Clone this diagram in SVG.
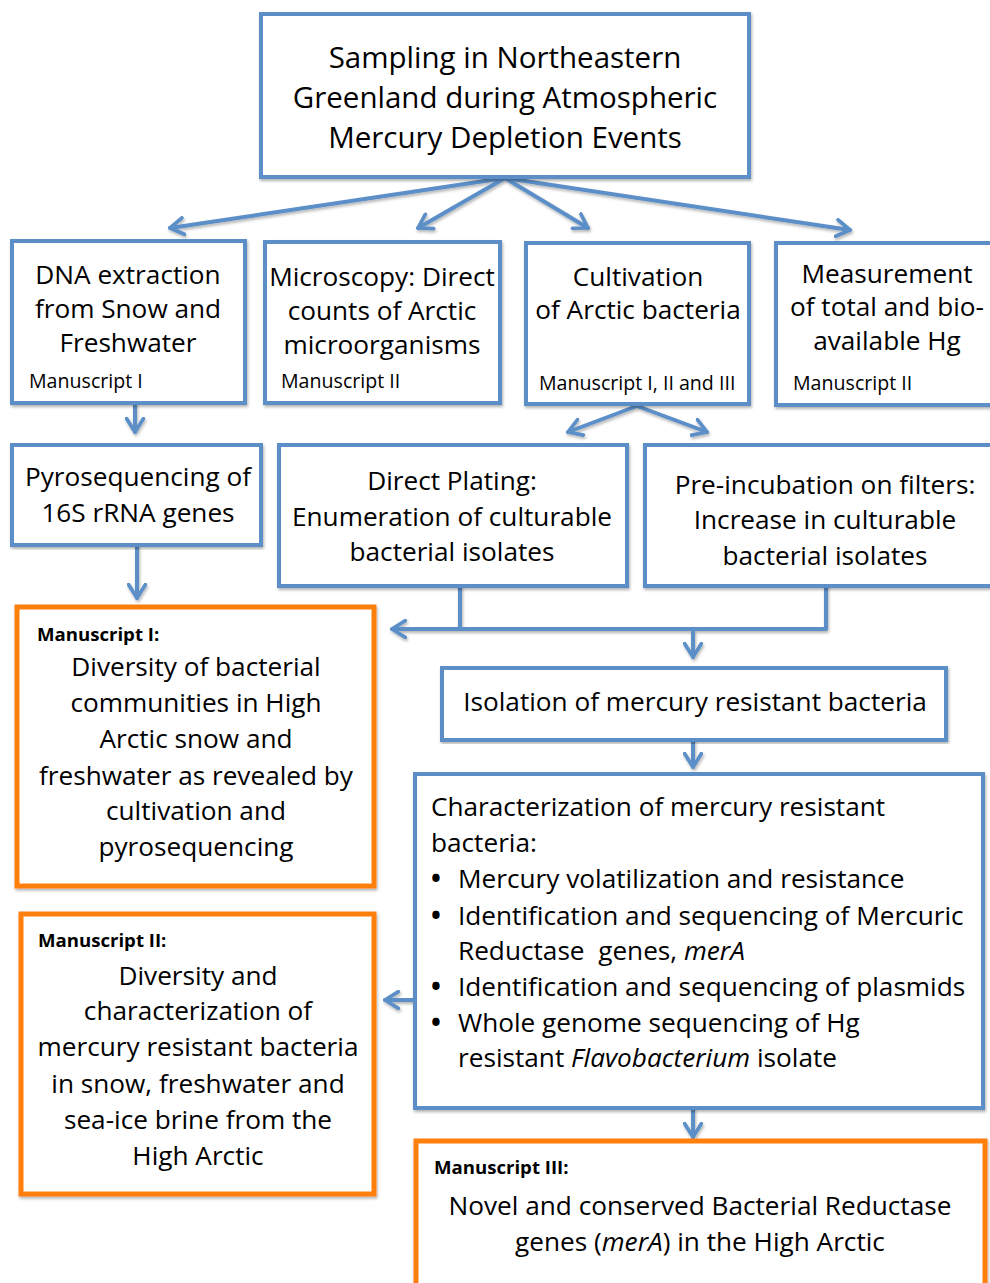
<svg xmlns="http://www.w3.org/2000/svg" width="990" height="1283" viewBox="0 0 990 1283">
<style>
.b{fill:#fff;stroke:#5B8FC7;stroke-width:4}
.o{fill:#fff;stroke:#FF7F0E;stroke-width:5}
.c{fill:none;stroke:#5B8FC7;stroke-width:4;stroke-linecap:round;stroke-linejoin:round}
text{font-family:"Open Sans","Liberation Sans",sans-serif;fill:#000}
.t{font-size:26.2px;text-anchor:middle}
.tl{font-size:26.2px}
.s{font-size:19.6px}
.h{font-size:18.6px;font-weight:bold}
.top{font-size:29.5px;text-anchor:middle}
.bu{font-size:26.2px;font-weight:bold}
</style>
<defs>
<filter id="sh" x="-5%" y="-5%" width="110%" height="110%"><feDropShadow dx="1" dy="2" stdDeviation="1.5" flood-color="#000" flood-opacity="0.3"/></filter>
<marker id="ah" viewBox="0 0 12 12" refX="9" refY="6" markerWidth="5" markerHeight="5" orient="auto" markerUnits="strokeWidth"><path d="M1,1 L9,6 L1,11" fill="none" stroke="#5B8FC7" stroke-width="2.2" stroke-linecap="round" stroke-linejoin="round"/></marker>
</defs>
<g id="connectors" filter="url(#sh)">
<path class="c" d="M505,178 L170,228" marker-end="url(#ah)"/>
<path class="c" d="M505,178 L418,228" marker-end="url(#ah)"/>
<path class="c" d="M505,178 L588,228" marker-end="url(#ah)"/>
<path class="c" d="M505,178 L850,230" marker-end="url(#ah)"/>
<path class="c" d="M135,404 L135,432" marker-end="url(#ah)"/>
<path class="c" d="M637,406 L568,432" marker-end="url(#ah)"/>
<path class="c" d="M637,406 L707,432" marker-end="url(#ah)"/>
<path class="c" d="M137,546 L137,598" marker-end="url(#ah)"/>
<path class="c" d="M460,587 L460,629"/>
<path class="c" d="M826,587 L826,629 L392,629" marker-end="url(#ah)"/>
<path class="c" d="M693,629 L693,657" marker-end="url(#ah)"/>
<path class="c" d="M693,741 L693,767" marker-end="url(#ah)"/>
<path class="c" d="M415,1000 L385,1000" marker-end="url(#ah)"/>
<path class="c" d="M693,1109 L693,1137" marker-end="url(#ah)"/>
</g>
<g id="n-top"><rect class="b" filter="url(#sh)" x="261" y="14" width="488" height="163"/>
<text class="top" x="505" y="68">Sampling in Northeastern</text>
<text class="top" x="505" y="108">Greenland during Atmospheric</text>
<text class="top" x="505" y="148">Mercury Depletion Events</text></g>
<g id="n-dna"><rect class="b" filter="url(#sh)" x="12" y="241" width="233" height="162"/>
<text class="t" x="128" y="284">DNA extraction</text>
<text class="t" x="128" y="318">from Snow and</text>
<text class="t" x="128" y="352">Freshwater</text>
<text class="s" x="29" y="388">Manuscript I</text></g>
<g id="n-micro"><rect class="b" filter="url(#sh)" x="265" y="242" width="235" height="161"/>
<text class="t" x="382" y="286">Microscopy: Direct</text>
<text class="t" x="382" y="320">counts of Arctic</text>
<text class="t" x="382" y="354">microorganisms</text>
<text class="s" x="281" y="388">Manuscript II</text></g>
<g id="n-cult"><rect class="b" filter="url(#sh)" x="526" y="243" width="223" height="161"/>
<text class="t" x="638" y="286">Cultivation</text>
<text class="t" x="638" y="319">of Arctic bacteria</text>
<text class="s" x="539" y="390">Manuscript I, II and III</text></g>
<g id="n-meas"><rect class="b" filter="url(#sh)" x="776" y="243" width="220" height="162"/>
<text class="t" x="887" y="283">Measurement</text>
<text class="t" x="887" y="316">of total and bio-</text>
<text class="t" x="887" y="350">available Hg</text>
<text class="s" x="793" y="390">Manuscript II</text></g>
<g id="n-pyro"><rect class="b" filter="url(#sh)" x="12" y="445" width="249" height="100"/>
<text class="t" x="138" y="486">Pyrosequencing of</text>
<text class="t" x="138" y="522">16S rRNA genes</text></g>
<g id="n-direct"><rect class="b" filter="url(#sh)" x="279" y="445" width="348" height="141"/>
<text class="t" x="452" y="490">Direct Plating:</text>
<text class="t" x="452" y="526">Enumeration of culturable</text>
<text class="t" x="452" y="561">bacterial isolates</text></g>
<g id="n-pre"><rect class="b" filter="url(#sh)" x="645" y="445" width="351" height="141"/>
<text class="t" x="825" y="494">Pre-incubation on filters:</text>
<text class="t" x="825" y="529">Increase in culturable</text>
<text class="t" x="825" y="565">bacterial isolates</text></g>
<g id="n-m1"><rect class="o" filter="url(#sh)" x="17" y="607" width="357" height="279"/>
<text class="h" x="37" y="641">Manuscript I:</text>
<text class="t" x="196" y="676">Diversity of bacterial</text>
<text class="t" x="196" y="712">communities in High</text>
<text class="t" x="196" y="748">Arctic snow and</text>
<text class="t" x="196" y="785">freshwater as revealed by</text>
<text class="t" x="196" y="820">cultivation and</text>
<text class="t" x="196" y="856">pyrosequencing</text></g>
<g id="n-iso"><rect class="b" filter="url(#sh)" x="442" y="668" width="504" height="72"/>
<text class="t" x="695" y="711">Isolation of mercury resistant bacteria</text></g>
<g id="n-char"><rect class="b" filter="url(#sh)" x="415" y="774" width="568" height="334"/>
<text class="tl" x="431" y="816">Characterization of mercury resistant</text>
<text class="tl" x="431" y="852">bacteria:</text>
<text class="bu" x="431" y="888">•</text><text class="tl" x="458" y="888">Mercury volatilization and resistance</text>
<text class="bu" x="431" y="925">•</text><text class="tl" x="458" y="925">Identification and sequencing of Mercuric</text>
<text class="tl" x="458" y="960" xml:space="preserve">Reductase  genes, <tspan font-style="italic">merA</tspan></text>
<text class="bu" x="431" y="996">•</text><text class="tl" x="458" y="996">Identification and sequencing of plasmids</text>
<text class="bu" x="431" y="1032">•</text><text class="tl" x="458" y="1032">Whole genome sequencing of Hg</text>
<text class="tl" x="458" y="1067">resistant <tspan font-style="italic">Flavobacterium</tspan> isolate</text></g>
<g id="n-m2"><rect class="o" filter="url(#sh)" x="21" y="914" width="353" height="280"/>
<text class="h" x="38" y="947">Manuscript II:</text>
<text class="t" x="198" y="985">Diversity and</text>
<text class="t" x="198" y="1020">characterization of</text>
<text class="t" x="198" y="1056">mercury resistant bacteria</text>
<text class="t" x="198" y="1093">in snow, freshwater and</text>
<text class="t" x="198" y="1129">sea-ice brine from the</text>
<text class="t" x="198" y="1165">High Arctic</text></g>
<g id="n-m3"><rect class="o" filter="url(#sh)" x="416" y="1141" width="569" height="160"/>
<text class="h" x="434" y="1174">Manuscript III:</text>
<text class="t" x="700" y="1215">Novel and conserved Bacterial Reductase</text>
<text class="t" x="700" y="1251">genes (<tspan font-style="italic">merA</tspan>) in the High Arctic</text></g>
</svg>
